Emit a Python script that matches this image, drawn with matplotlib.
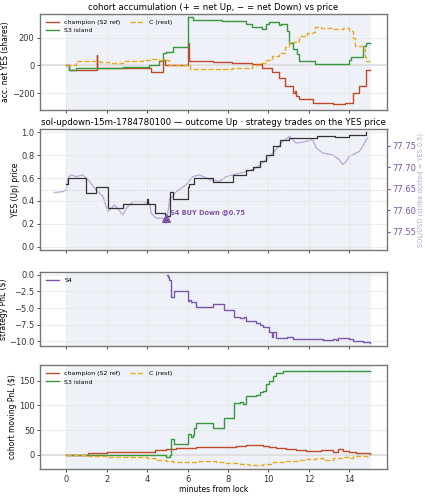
import matplotlib
matplotlib.use("Agg")
import matplotlib.pyplot as plt

# ---- panel 1: accumulation (shares)
champ_acc_t = [0,0.16,1.5,1.53,2.8,4.15,4.2,4.7,4.8,4.9,6.0,6.05,7.25,8.2,9.2,9.7,10.2,10.5,10.8,11.2,11.3,11.35,11.5,12.2,13.2,13.8,14.2,14.5,14.8,15.0]
champ_acc_v = [0,-30,75,-20,-20,-20,-45,-50,40,0,160,30,25,20,10,-20,-50,-90,-150,-200,-180,-220,-240,-270,-280,-270,-200,-150,-30,-30]
s3_acc_t = [0,0.16,0.5,2.8,4.1,4.6,4.8,4.94,5.27,6.0,6.26,7.7,8.9,9.2,9.7,9.9,10.05,10.5,10.6,10.9,11.0,11.2,11.4,11.5,12.3,14.0,14.1,14.3,14.7,14.8,15.0]
s3_acc_v = [0,-30,-20,-10,0,30,90,100,130,350,330,320,300,280,260,300,310,290,300,250,160,120,80,30,10,40,60,60,140,160,160]
c_acc_t = [0,0.5,1.65,2.1,2.8,3.8,4.2,4.6,5.1,6.1,8.2,8.6,9.2,9.6,9.9,10.2,10.5,10.8,11.0,11.5,11.9,12.2,12.3,12.6,13.2,13.7,14.0,14.2,14.3,14.66,14.75,14.83,15.0]
c_acc_v = [0,35,25,15,35,40,50,40,0,-25,-20,-15,0,20,40,70,90,130,170,210,230,240,280,270,260,270,250,200,140,120,60,30,30]

# ---- panel 2: YES price and SOL
yes_t = [0,0.08,1.0,1.48,2.06,2.8,4.0,4.05,4.37,4.86,5.11,5.27,6.0,6.05,6.34,7.25,7.9,8.24,8.9,9.23,9.56,9.9,10.22,10.55,11.04,12.4,13.3,14.0,14.83]
yes_v = [0.55,0.60,0.47,0.52,0.34,0.37,0.42,0.37,0.29,0.27,0.48,0.42,0.52,0.55,0.60,0.57,0.57,0.63,0.67,0.70,0.75,0.80,0.88,0.93,0.95,0.97,0.96,0.98,1.00]
sol_t = [-0.58,-0.16,0,0.08,0.25,0.49,0.82,1.07,1.48,1.81,1.98,2.06,2.39,2.8,2.97,3.3,3.79,4.12,4.2,4.45,4.78,4.94,5.02,5.11,5.44,5.93,6.26,6.59,7.08,7.58,7.91,8.24,8.57,9.23,9.72,10.05,10.38,10.71,11.04,11.37,11.86,12.19,12.36,12.69,13.18,13.51,13.67,13.84,14.0,14.17,14.5,14.66,14.83,14.91]
sol_v = [77.641,77.643,77.647,77.675,77.682,77.678,77.682,77.671,77.647,77.632,77.608,77.597,77.612,77.589,77.604,77.620,77.620,77.616,77.593,77.581,77.581,77.569,77.593,77.624,77.643,77.659,77.678,77.682,77.671,77.667,77.678,77.682,77.686,77.694,77.710,77.725,77.741,77.760,77.772,77.756,77.760,77.764,77.745,77.733,77.729,77.717,77.706,77.713,77.725,77.729,77.737,77.748,77.764,77.768]
trade_t = [4.94]
trade_y = [0.25]
trade_label = "S4 BUY Down @0.75"

# ---- panel 3: S4 PnL
s4_t = [5.0,5.05,5.1,5.2,5.35,6.0,6.08,6.16,6.4,7.25,7.8,8.3,8.57,8.8,8.9,9.4,9.56,9.72,10.05,10.2,10.24,10.38,10.9,11.2,11.7,12.7,13.2,13.35,13.43,14.0,14.17,14.66,15.0]
s4_v = [0,-0.3,-0.8,-3.3,-2.4,-4.0,-3.8,-4.1,-4.8,-4.4,-5.3,-6.3,-6.5,-6.3,-7.0,-7.2,-7.6,-7.8,-8.6,-9.4,-8.6,-9.5,-9.4,-9.6,-9.7,-9.8,-9.6,-9.8,-9.5,-9.7,-10.0,-10.1,-10.2]

# ---- panel 4: cohort moving PnL
champ_pnl_t = [0,1.07,2.0,4.0,4.4,4.94,5.44,5.93,6.43,7.25,7.91,8.4,8.9,9.72,10.05,10.38,10.87,11.37,11.86,12.52,12.6,13.18,13.43,13.67,14.0,14.33,15.0]
champ_pnl_v = [0,3,5,6,10,12,13,14,16,15,16,18,19,18,15,13,12,10,8,7,10,5,12,8,6,3,2]
s3_pnl_t = [0,4.94,5.11,5.19,5.35,6.0,6.16,6.26,6.34,6.43,7.25,7.82,8.3,8.57,8.73,8.9,9.4,9.56,9.72,9.88,10.05,10.22,10.38,10.71,15.0]
s3_pnl_v = [0,-5,0,32,22,42,35,40,55,65,55,75,105,107,103,120,122,128,130,143,150,160,165,170,170]
c_pnl_t = [0,1.0,1.07,2.0,4.0,4.4,4.94,5.27,6.59,7.41,7.91,8.57,9.06,9.72,10.22,10.87,11.53,11.86,12.36,12.69,13.18,13.67,14.0,14.17,15.0]
c_pnl_v = [0,-3,-3,-5,-6,-10,-12,-14,-13,-14,-17,-19,-20,-18,-15,-13,-10,-8,-7,-10,-6,-4,-7,-3,-2]

C_CH = "#c0492b"; C_S3 = "#3a963c"; C_C = "#e8a923"; C_S4 = "#7d55a8"; C_SOL = "#b9a6d9"
BG = "#eef2f8"

fig = plt.figure(figsize=(4.25, 5.0), dpi=100)
L, W = 0.094, 0.816
ax1 = fig.add_axes([L, 0.78, W, 0.192])
ax2 = fig.add_axes([L, 0.50, W, 0.242], sharex=ax1)
ax3 = fig.add_axes([L, 0.308, W, 0.148], sharex=ax1)
ax4 = fig.add_axes([L, 0.062, W, 0.208], sharex=ax1)

for ax in (ax1, ax3, ax4):
    ax.axvspan(0, 15, color=BG, zorder=0)
for ax in (ax1, ax2, ax3, ax4):
    ax.grid(True, color="#e4e4e4", lw=0.5)
    ax.set_axisbelow(True)
    ax.tick_params(labelsize=6, length=2.5, width=0.6, colors="#333333", pad=1.5)
    for s in ax.spines.values():
        s.set_color("#777777"); s.set_linewidth(1.0)
ax1.set_xlim(-1.3, 15.85)
ax1.set_xticks([0, 2, 4, 6, 8, 10, 12, 14])
for ax in (ax1, ax2, ax3):
    ax.tick_params(labelbottom=False)

# panel 1
ax1.axhline(0, color="#dddddd", lw=1.2, zorder=1)
ax1.plot(champ_acc_t, champ_acc_v, drawstyle="steps-post", color=C_CH, lw=1.0, label="champion (S2 ref)")
ax1.plot(s3_acc_t, s3_acc_v, drawstyle="steps-post", color=C_S3, lw=1.0, label="S3 island")
ax1.plot(c_acc_t, c_acc_v, drawstyle="steps-post", color=C_C, lw=1.0, ls="--", label="C (rest)")
ax1.set_ylim(-320, 370)
ax1.set_yticks([-200, 0, 200])
ax1.set_ylabel("acc. net YES (shares)", fontsize=5.5, labelpad=1)
ax1.set_title("cohort accumulation (+ = net Up, − = net Down) vs price", fontsize=6.2, pad=3)
ax1.legend(loc="upper left", ncol=2, fontsize=4.5, frameon=False, handlelength=2.2, columnspacing=1.5)

# panel 2
ax2b = ax2.twinx()
ax2b.axvspan(0, 15, color=BG, zorder=0)
ax2b.grid(False)
ax2b.plot(sol_t, sol_v, color=C_SOL, lw=0.9, zorder=2)
ax2b.set_ylim(77.507, 77.789)
ax2b.set_yticks([77.55, 77.60, 77.65, 77.70, 77.75])
ax2b.tick_params(labelsize=6, colors=C_S4, length=2.5, pad=1.5)
ax2b.set_ylabel("SOL/USD (strike dotted = YES 0.5)", fontsize=4.8, color=C_SOL, labelpad=1)
for s in ax2b.spines.values():
    s.set_visible(False)
ax2.set_zorder(ax2b.get_zorder() + 1); ax2.patch.set_visible(False)
ax2.axhline(0.5, color="#cccccc", lw=0.8, ls=":", zorder=1)
ax2.plot(yes_t, yes_v, drawstyle="steps-post", color="#333333", lw=0.9, zorder=3)
ax2.scatter(trade_t, trade_y, marker="^", s=30, color=C_S4, zorder=5)
ax2.annotate(trade_label, (trade_t[0], trade_y[0]), xytext=(3, 3), textcoords="offset points",
             fontsize=4.8, color=C_S4, fontweight="bold", zorder=6)
ax2.set_ylim(-0.03, 1.03)
ax2.set_yticks([0.0, 0.2, 0.4, 0.6, 0.8, 1.0])
ax2.set_ylabel("YES (Up) price", fontsize=5.5, labelpad=1)
ax2.set_title("sol-updown-15m-1784780100 — outcome Up · strategy trades on the YES price", fontsize=6.2, pad=3)

# panel 3
ax3.plot(s4_t, s4_v, drawstyle="steps-post", color=C_S4, lw=1.0, label="S4")
ax3.set_ylim(-10.7, 0.4)
ax3.set_yticks([0.0, -2.5, -5.0, -7.5, -10.0])
ax3.set_ylabel("strategy PnL ($)", fontsize=5.5, labelpad=1)
ax3.legend(loc="upper left", fontsize=4.5, frameon=False, handlelength=2.2)

# panel 4
ax4.axhline(0, color="#dddddd", lw=1.2, zorder=1)
ax4.plot(champ_pnl_t, champ_pnl_v, drawstyle="steps-post", color=C_CH, lw=1.0, label="champion (S2 ref)")
ax4.plot(s3_pnl_t, s3_pnl_v, drawstyle="steps-post", color=C_S3, lw=1.0, label="S3 island")
ax4.plot(c_pnl_t, c_pnl_v, drawstyle="steps-post", color=C_C, lw=1.0, ls="--", label="C (rest)")
ax4.set_ylim(-29, 182)
ax4.set_yticks([0, 50, 100, 150])
ax4.set_ylabel("cohort moving PnL ($)", fontsize=5.5, labelpad=1)
ax4.set_xlabel("minutes from lock", fontsize=5.5, labelpad=1)
ax4.legend(loc="upper left", ncol=2, fontsize=4.5, frameon=False, handlelength=2.2, columnspacing=1.5)

fig.savefig("out.png", dpi=100)
